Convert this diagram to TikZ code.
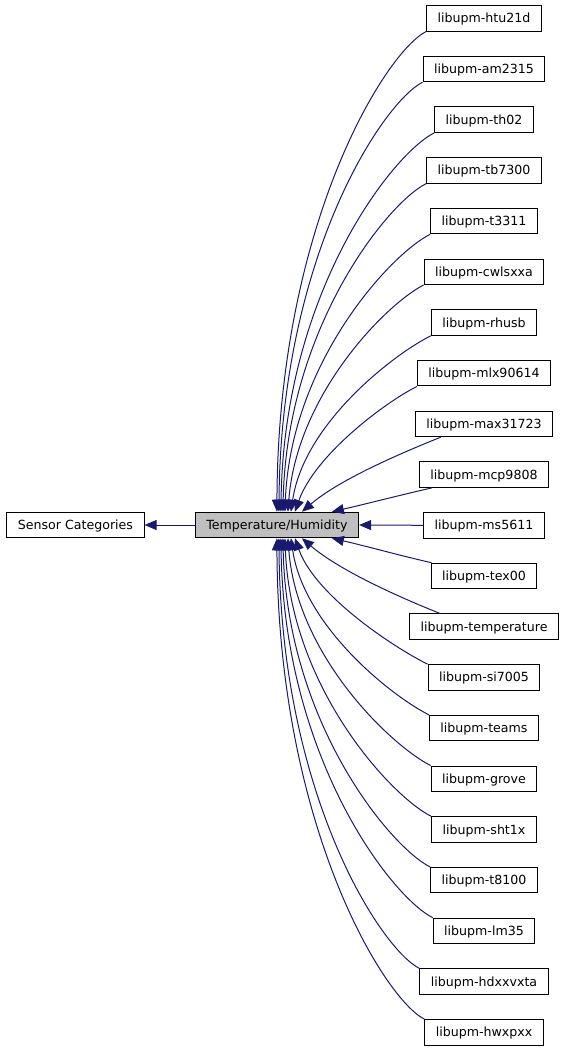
\documentclass[tikz,border=0pt]{standalone}
\usepackage{fontspec}
\setmainfont{DejaVu Sans}
\usetikzlibrary{arrows.meta,calc}
\definecolor{edgec}{HTML}{191970}
\definecolor{centerfill}{HTML}{BFBFBF}
\begin{document}
\begin{tikzpicture}[x=1pt,y=-1pt,
  box/.style={draw=black, line width=1pt, fill=white, minimum height=25.5pt,
    inner xsep=11pt, inner ysep=0pt, text height=11pt, text depth=2pt,
    font=\fontsize{12.6}{14}\selectfont},
  conn/.style={draw=edgec, line width=1pt, -{Triangle[length=12pt,width=10pt]}}]
\useasboundingbox (0,0) rectangle (565,1051);
\node[box] (sc) at (75.5,525) {Sensor Categories};
\node[box, fill=centerfill] (th) at (277,525) {Temperature/Humidity};
\foreach \i/\t in {0/htu21d,1/am2315,2/th02,3/tb7300,4/t3311,5/cwlsxxa,6/rhusb,
  7/mlx90614,8/max31723,9/mcp9808,10/ms5611,11/tex00,12/temperature,13/si7005,
  14/teams,15/grove,16/sht1x,17/t8100,18/lm35,19/hdxxvxta,20/hwxpxx}
  \node[box] (n\i) at (484,{18.3+50.7*\i}) {libupm-\t};
% upper curved edges
\foreach \i/\ex/\h/\f in {0/82/1/0.6,1/84/2/0.6,2/86/3/0.58,3/88/4/0.56,4/90/6/0.54,
  5/93/9/0.52,6/96/13/0.5,7/100/20/0.45}
  \draw[conn] let \p1=(n\i.south west), \p2=([xshift=\ex]th.north west),
    \n1={\x1-\x2}, \n2={\y1-\y2} in
    (\p1) .. controls (\x1-0.27*\n1, \y1-0.135*\n1) and (\x2+\h pt, \y2+\f*\n2) .. (\p2);
% lower curved edges
\foreach \i/\ex/\h/\f in {20/82/1/0.6,19/84/2/0.6,18/86/3/0.58,17/88/4/0.56,16/90/6/0.54,
  15/93/9/0.52,14/96/13/0.5,13/100/20/0.45}
  \draw[conn] let \p1=(n\i.north west), \p2=([xshift=\ex]th.south west),
    \n1={\x1-\x2}, \n2={\y1-\y2} in
    (\p1) .. controls (\x1-0.27*\n1, \y1+0.135*\n1) and (\x2+\h pt, \y2+\f*\n2) .. (\p2);
% near edges
\draw[conn] ([xshift=26]n8.south west) .. controls +(-50,20) and +(35,-30) .. ([xshift=107]th.north west);
\draw[conn] ([xshift=13]n9.south west) .. controls +(-35,8) and +(35,-8) .. ([xshift=137]th.north west);
\draw[conn] (n10.west) -- (th.east);
\draw[conn] ([xshift=1]n11.north west) .. controls +(-35,-8) and +(35,8) .. ([xshift=137]th.south west);
\draw[conn] ([xshift=31]n12.north west) .. controls +(-50,-20) and +(35,30) .. ([xshift=107]th.south west);
\draw[conn] (th.west) -- (sc.east);
\end{tikzpicture}
\end{document}
